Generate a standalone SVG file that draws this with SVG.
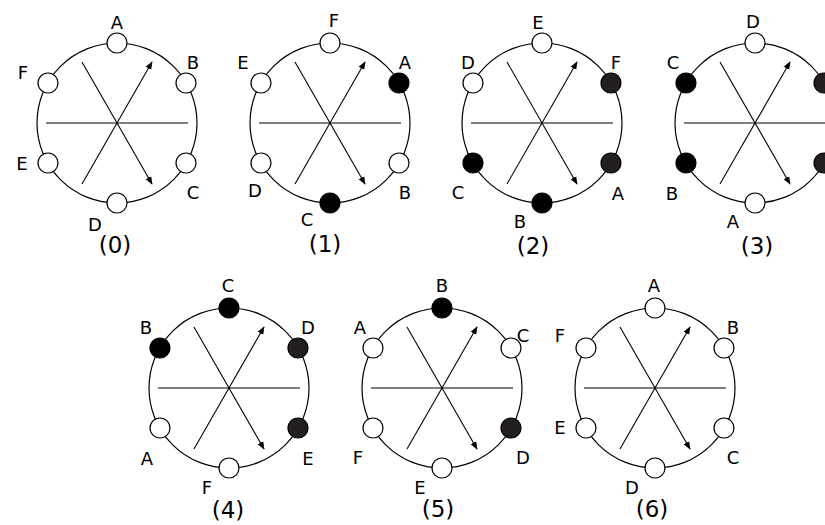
<svg xmlns="http://www.w3.org/2000/svg" xmlns:xlink="http://www.w3.org/1999/xlink" width="825" height="525" viewBox="0 0 825 525">
<style>
.ring{fill:none;stroke:#000;stroke-width:1.2}
.st{stroke:#000;stroke-width:1.2}
.w{fill:#fff}
.k{fill:#000}
.d{fill:#231f20}
.ln{stroke:#000;stroke-width:1.1;fill:none}
.hz{stroke:#555;stroke-width:1.6}
.hk{stroke:#000;stroke-width:1.2}
text{font-family:"DejaVu Sans","Liberation Sans",sans-serif;fill:#000;text-anchor:middle;dominant-baseline:central}
.lb{font-size:18px}
.num{font-size:23px}
</style>
<defs>
<marker id="ah" viewBox="0 0 10 10" refX="9" refY="5" markerWidth="8" markerHeight="8" markerUnits="userSpaceOnUse" orient="auto">
<path d="M0,1 L10,5 L0,9 Z" fill="#000"/>
</marker>
<g id="spokes">
<line class="ln" x1="-35" y1="-61" x2="35" y2="61" marker-end="url(#ah)"/>
<line class="ln" x1="-35" y1="61" x2="35" y2="-61" marker-end="url(#ah)"/>
</g>
</defs>

<g id="panel0" transform="translate(117,123)">
<circle class="ring" r="80"/>
<line class="hz" x1="-71" y1="0" x2="71" y2="0"/>
<use xlink:href="#spokes"/>
<g id="p0-nodes">
<circle class="st w" cx="0" cy="-80" r="10"/>
<circle class="st w" cx="69" cy="-40" r="10"/>
<circle class="st w" cx="69" cy="40" r="10"/>
<circle class="st w" cx="0" cy="80" r="10"/>
<circle class="st w" cx="-69" cy="40" r="10"/>
<circle class="st w" cx="-69" cy="-40" r="10"/>
</g>
<text class="lb" x="0" y="-101">A</text>
<text class="lb" x="76" y="-61">B</text>
<text class="lb" x="76" y="69">C</text>
<text class="lb" x="-22" y="101">D</text>
<text class="lb" x="-95" y="40">E</text>
<text class="lb" x="-94" y="-51">F</text>
<text class="num" x="-2" y="122">(0)</text>
</g>

<g id="panel1" transform="translate(330,123)">
<circle class="ring" r="80"/>
<line class="hz" x1="-71" y1="0" x2="71" y2="0"/>
<use xlink:href="#spokes"/>
<g id="p1-nodes">
<circle class="st w" cx="0" cy="-80" r="10"/>
<circle class="st k" cx="69" cy="-40" r="10"/>
<circle class="st w" cx="69" cy="40" r="10"/>
<circle class="st k" cx="0" cy="80" r="10"/>
<circle class="st w" cx="-69" cy="40" r="10"/>
<circle class="st w" cx="-69" cy="-40" r="10"/>
</g>
<text class="lb" x="4" y="-103">F</text>
<text class="lb" x="75" y="-61">A</text>
<text class="lb" x="75" y="69">B</text>
<text class="lb" x="-23" y="96">C</text>
<text class="lb" x="-75" y="67">D</text>
<text class="lb" x="-87" y="-61">E</text>
<text class="num" x="-5" y="121">(1)</text>
</g>

<g id="panel2" transform="translate(542,123)">
<circle class="ring" r="80"/>
<line class="hz" x1="-71" y1="0" x2="71" y2="0"/>
<use xlink:href="#spokes"/>
<g id="p2-nodes">
<circle class="st w" cx="0" cy="-80" r="10"/>
<circle class="st d" cx="69" cy="-40" r="10"/>
<circle class="st d" cx="69" cy="40" r="10"/>
<circle class="st k" cx="0" cy="80" r="10"/>
<circle class="st k" cx="-69" cy="40" r="10"/>
<circle class="st w" cx="-69" cy="-40" r="10"/>
</g>
<text class="lb" x="-4" y="-101">E</text>
<text class="lb" x="74" y="-61">F</text>
<text class="lb" x="76" y="70">A</text>
<text class="lb" x="-22" y="98">B</text>
<text class="lb" x="-84" y="69">C</text>
<text class="lb" x="-74" y="-61">D</text>
<text class="num" x="-9" y="123">(2)</text>
</g>

<g id="panel3" transform="translate(755,123)">
<circle class="ring" r="80"/>
<line class="hz" x1="-71" y1="0" x2="71" y2="0"/>
<use xlink:href="#spokes"/>
<g id="p3-nodes">
<circle class="st w" cx="0" cy="-80" r="10"/>
<circle class="st d" cx="69" cy="-40" r="10"/>
<circle class="st d" cx="69" cy="40" r="10"/>
<circle class="st w" cx="0" cy="80" r="10"/>
<circle class="st k" cx="-69" cy="40" r="10"/>
<circle class="st k" cx="-69" cy="-40" r="10"/>
</g>
<text class="lb" x="-2" y="-102">D</text>
<text class="lb" x="-82" y="-61">C</text>
<text class="lb" x="-83" y="70">B</text>
<text class="lb" x="-22" y="98">A</text>
<text class="num" x="2" y="123">(3)</text>
</g>

<g id="panel4" transform="translate(229,388)">
<circle class="ring" r="80"/>
<line class="hk" x1="-71" y1="0" x2="71" y2="0"/>
<use xlink:href="#spokes"/>
<g id="p4-nodes">
<circle class="st k" cx="0" cy="-80" r="10"/>
<circle class="st d" cx="69" cy="-40" r="10"/>
<circle class="st d" cx="69" cy="40" r="10"/>
<circle class="st w" cx="0" cy="80" r="10"/>
<circle class="st w" cx="-69" cy="40" r="10"/>
<circle class="st k" cx="-69" cy="-40" r="10"/>
</g>
<text class="lb" x="-1" y="-103">C</text>
<text class="lb" x="79" y="-61">D</text>
<text class="lb" x="79" y="70">E</text>
<text class="lb" x="-22" y="99">F</text>
<text class="lb" x="-82" y="70">A</text>
<text class="lb" x="-83" y="-61">B</text>
<text class="num" x="-1" y="122">(4)</text>
</g>

<g id="panel5" transform="translate(442,388)">
<circle class="ring" r="80"/>
<line class="hk" x1="-71" y1="0" x2="71" y2="0"/>
<use xlink:href="#spokes"/>
<g id="p5-nodes">
<circle class="st k" cx="0" cy="-80" r="10"/>
<circle class="st w" cx="69" cy="-40" r="10"/>
<circle class="st d" cx="69" cy="40" r="10"/>
<circle class="st w" cx="0" cy="80" r="10"/>
<circle class="st w" cx="-69" cy="40" r="10"/>
<circle class="st w" cx="-69" cy="-40" r="10"/>
</g>
<text class="lb" x="0" y="-103">B</text>
<text class="lb" x="81" y="-53">C</text>
<text class="lb" x="81" y="69">D</text>
<text class="lb" x="-22" y="99">E</text>
<text class="lb" x="-84" y="69">F</text>
<text class="lb" x="-82" y="-61">A</text>
<text class="num" x="-4" y="121">(5)</text>
</g>

<g id="panel6" transform="translate(655,388)">
<circle class="ring" r="80"/>
<line class="hk" x1="-71" y1="0" x2="71" y2="0"/>
<use xlink:href="#spokes"/>
<g id="p6-nodes">
<circle class="st w" cx="0" cy="-80" r="10"/>
<circle class="st w" cx="69" cy="-40" r="10"/>
<circle class="st w" cx="69" cy="40" r="10"/>
<circle class="st w" cx="0" cy="80" r="10"/>
<circle class="st w" cx="-69" cy="40" r="10"/>
<circle class="st w" cx="-69" cy="-40" r="10"/>
</g>
<text class="lb" x="-1" y="-103">A</text>
<text class="lb" x="78" y="-61">B</text>
<text class="lb" x="78" y="69">C</text>
<text class="lb" x="-23" y="99">D</text>
<text class="lb" x="-95" y="39">E</text>
<text class="lb" x="-95" y="-53">F</text>
<text class="num" x="-3" y="121">(6)</text>
</g>
</svg>
